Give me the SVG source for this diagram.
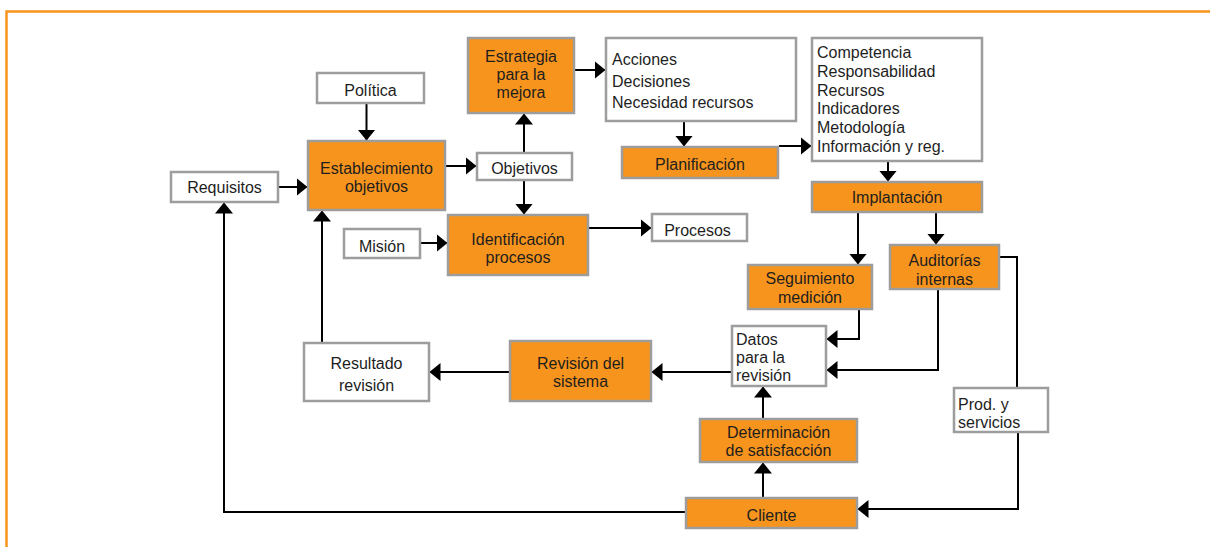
<svg xmlns="http://www.w3.org/2000/svg" width="1210" height="547" viewBox="0 0 1210 547">
<style>
.o{fill:#f7941d;stroke:#9d9d9d;stroke-width:2.5}
.w{fill:#ffffff;stroke:#9d9d9d;stroke-width:2.5}
text{font-family:"Liberation Sans",Arial,sans-serif;font-size:16px;fill:#1e1e1e}
.c{text-anchor:middle}
.ln{fill:none;stroke:#000;stroke-width:2}
.a{marker-end:url(#ah)}
</style>
<defs>
<marker id="ah" markerUnits="userSpaceOnUse" markerWidth="11" markerHeight="18" viewBox="0 0 11 18" refX="10.5" refY="9" orient="auto">
<path d="M0,0 L11,9 L0,18 Z" fill="#000"/>
</marker>
</defs>
<path d="M6.5,547 V11.5 H1210" fill="none" stroke="#f7941d" stroke-width="2.5"/>
<g id="connectors">
<path class="ln a" d="M366.5,104 V140"/>
<path class="ln a" d="M279,187 H307"/>
<path class="ln a" d="M446,166 H476"/>
<path class="ln a" d="M524,152 V114"/>
<path class="ln a" d="M524,181 V214"/>
<path class="ln a" d="M421,243 H447"/>
<path class="ln a" d="M589,228 H651"/>
<path class="ln a" d="M575,70 H605"/>
<path class="ln a" d="M684,122 V146"/>
<path class="ln a" d="M779,146 H811"/>
<path class="ln a" d="M888,162 V181"/>
<path class="ln a" d="M858,213 V264"/>
<path class="ln a" d="M936,213 V244"/>
<path class="ln a" d="M859,310 V339 H827"/>
<path class="ln a" d="M938,290 V370 H827"/>
<path class="ln" d="M1000,257 H1017 V387"/>
<path class="ln a" d="M1018,433 V509 H858"/>
<path class="ln a" d="M763,497 V463"/>
<path class="ln a" d="M763,418 V387"/>
<path class="ln a" d="M731,372 H652"/>
<path class="ln a" d="M509,372 H430"/>
<path class="ln a" d="M322,342 V211"/>
<path class="ln a" d="M685,512 H224 V203"/>
</g>
<g id="politica"><rect class="w" x="317" y="73" width="107" height="30"/><text class="c" x="370.5" y="95.5">Política</text></g>
<g id="establecimiento"><rect class="o" x="308" y="141" width="137" height="69"/><text class="c" x="376.5" y="174">Establecimiento</text><text class="c" x="376.5" y="192">objetivos</text></g>
<g id="requisitos"><rect class="w" x="171" y="172" width="107" height="30"/><text class="c" x="224.5" y="193">Requisitos</text></g>
<g id="mision"><rect class="w" x="344" y="229" width="76" height="29"/><text class="c" x="382" y="252">Misión</text></g>
<g id="estrategia"><rect class="o" x="468" y="38" width="106" height="75"/><text class="c" x="521" y="62">Estrategia</text><text class="c" x="521" y="80">para la</text><text class="c" x="521" y="98">mejora</text></g>
<g id="acciones"><rect class="w" x="606" y="38" width="190" height="83"/><text x="612" y="65">Acciones</text><text x="612" y="86.5">Decisiones</text><text x="612" y="107.5">Necesidad recursos</text></g>
<g id="objetivos"><rect class="w" x="477" y="153" width="95" height="27"/><text class="c" x="524.5" y="173.5">Objetivos</text></g>
<g id="planificacion"><rect class="o" x="622" y="147" width="156" height="31"/><text class="c" x="700" y="169.5">Planificación</text></g>
<g id="identificacion"><rect class="o" x="448" y="215" width="140" height="60"/><text class="c" x="518" y="245">Identificación</text><text class="c" x="518" y="263">procesos</text></g>
<g id="procesos"><rect class="w" x="652" y="214" width="95" height="27"/><text class="c" x="697.5" y="235.5">Procesos</text></g>
<g id="competencia"><rect class="w" x="812" y="38" width="170" height="123"/><text x="817" y="57.5">Competencia</text><text x="817" y="76.5">Responsabilidad</text><text x="817" y="95.5">Recursos</text><text x="817" y="114">Indicadores</text><text x="817" y="133">Metodología</text><text x="817" y="152">Información y reg.</text></g>
<g id="implantacion"><rect class="o" x="812" y="182" width="170" height="30"/><text class="c" x="897" y="203">Implantación</text></g>
<g id="seguimiento"><rect class="o" x="748" y="265" width="124" height="44"/><text class="c" x="810" y="284">Seguimiento</text><text class="c" x="810" y="302.5">medición</text></g>
<g id="auditorias"><rect class="o" x="890" y="245" width="109" height="44"/><text class="c" x="944.5" y="266">Auditorías</text><text class="c" x="944.5" y="285">internas</text></g>
<g id="datos"><rect class="w" x="732" y="326" width="94" height="60"/><text x="736" y="344.5">Datos</text><text x="736" y="363">para la</text><text x="736" y="381">revisión</text></g>
<g id="prod"><rect class="w" x="954" y="388" width="94" height="44"/><text x="958" y="409.5">Prod. y</text><text x="958" y="428">servicios</text></g>
<g id="cliente"><rect class="o" x="686" y="498" width="171" height="30"/><text class="c" x="771.5" y="520.5">Cliente</text></g>
<g id="determinacion"><rect class="o" x="700" y="419" width="157" height="43"/><text class="c" x="778.5" y="437.5">Determinación</text><text class="c" x="778.5" y="456">de satisfacción</text></g>
<g id="revision"><rect class="o" x="510" y="341" width="141" height="60"/><text class="c" x="580.5" y="368.5">Revisión del</text><text class="c" x="580.5" y="387">sistema</text></g>
<g id="resultado"><rect class="w" x="304" y="343" width="125" height="58"/><text class="c" x="366.5" y="369">Resultado</text><text class="c" x="366.5" y="390.5">revisión</text></g>
</svg>
